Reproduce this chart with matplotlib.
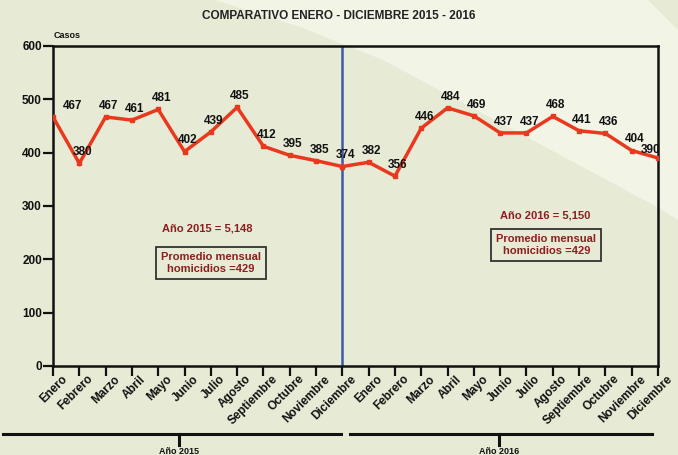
import numpy as np
import matplotlib
matplotlib.use("Agg")
import matplotlib.pyplot as plt
from matplotlib.patches import Polygon
from matplotlib.lines import Line2D
from matplotlib.transforms import ScaledTranslation

plt.rcParams['font.family'] = ['Liberation Sans', 'DejaVu Sans']
plt.rcParams['font.weight'] = 'bold'

meses = ['Enero', 'Febrero', 'Marzo', 'Abril', 'Mayo', 'Junio', 'Julio',
         'Agosto', 'Septiembre', 'Octubre', 'Noviembre', 'Diciembre']
casos_2015 = [467, 380, 467, 461, 481, 402, 439, 485, 412, 395, 385, 374]
casos_2016 = [382, 356, 446, 484, 469, 437, 437, 468, 441, 436, 404, 390]
total_2015 = "Año 2015 = 5,148"
total_2016 = "Año 2016 = 5,150"
promedio_2015 = "Promedio mensual\nhomicidios =429"
promedio_2016 = "Promedio mensual\nhomicidios =429"

valores = casos_2015 + casos_2016
etiquetas = meses + meses
x = np.arange(len(valores))

W, H = 678, 455
fig = plt.figure(figsize=(W / 100, H / 100), dpi=100)
fig.patch.set_facecolor('#E7EAD4')

# lighter diagonal band in the background
def px(pts):
    return [(a / W, 1 - b / H) for a, b in pts]

band = Polygon(px([(215, 0), (300, 27), (383, 60), (657, 207), (678, 220),
                   (678, 30), (648, 0)]),
               closed=True, transform=fig.transFigure, facecolor='#F2F4E6',
               edgecolor='none', zorder=-10)
fig.patches.append(band)

ax = fig.add_axes([53 / W, 1 - 366 / H, (658 - 53) / W, (366 - 46) / H])
ax.set_facecolor('none')

ax.plot(x, valores, color='#E8391F', lw=2.5, marker='s', ms=2.5, zorder=3,
        solid_joinstyle='miter')
ax.axvline(11, color='#3C5AA8', lw=1.8, zorder=2)

for i, v in enumerate(valores):
    dx, dy = 2.2, 8
    if i == 0:
        dx = 14
    elif i == len(valores) - 1:
        dx, dy = -5, 5.5
    ax.annotate(str(v), (i, v), xytext=(dx, dy), textcoords='offset points',
                ha='center', va='center', fontsize=8.5, fontweight='bold',
                color='#111111', zorder=4)

ax.set_xlim(0, 23)
ax.set_ylim(0, 600)
ax.set_yticks(range(0, 601, 100))
ax.set_xticks(x)
ax.tick_params(axis='both', direction='out', length=7, width=1.6,
               colors='#111111', labelsize=8.5, pad=1)
ax.set_xticklabels(etiquetas, rotation=45, ha='right', va='top',
                   rotation_mode='anchor', fontsize=8.5, fontweight='bold')
off = ScaledTranslation(8 / 100, 4 / 100, fig.dpi_scale_trans)
for lbl in ax.get_xticklabels():
    lbl.set_transform(lbl.get_transform() + off)
for lbl in ax.get_yticklabels():
    lbl.set_fontweight('bold')
for s in ax.spines.values():
    s.set_linewidth(1.8)
    s.set_color('#111111')

red = '#8B1F1F'
ax.text(5.85, 257, total_2015, ha='center', va='center', fontsize=8,
        fontweight='bold', color=red)
ax.text(6.0, 193, promedio_2015, ha='center', va='center', fontsize=8,
        fontweight='bold', color=red, linespacing=1.3,
        bbox=dict(boxstyle='square,pad=0.45', fc='none', ec='#333333', lw=1.3))
ax.text(18.7, 283, total_2016, ha='center', va='center', fontsize=8,
        fontweight='bold', color=red)
ax.text(18.75, 227, promedio_2016, ha='center', va='center', fontsize=8,
        fontweight='bold', color=red, linespacing=1.3,
        bbox=dict(boxstyle='square,pad=0.45', fc='none', ec='#333333', lw=1.3))

fig.text(339 / W, 1 - 16 / H, 'COMPARATIVO ENERO - DICIEMBRE 2015 - 2016',
         ha='center', va='center', fontsize=8.5, fontweight='bold',
         color='#222222')
fig.text(54 / W, 1 - 36 / H, 'Casos', ha='left', va='center', fontsize=6.5,
         fontweight='bold', color='#111111')

# year brackets below the month labels
for x0, x1, xc, lab in [(3, 341, 179, 'Año 2015'), (350, 652, 499, 'Año 2016')]:
    fig.lines.append(Line2D([x0 / W, x1 / W], [1 - 434 / H] * 2,
                            transform=fig.transFigure, color='#111111', lw=2.2))
    fig.lines.append(Line2D([xc / W] * 2, [1 - 434 / H, 1 - 445 / H],
                            transform=fig.transFigure, color='#111111', lw=2.2))
    fig.text(xc / W, 1 - 452 / H, lab, ha='center', va='center', fontsize=6.5,
             fontweight='bold', color='#111111')

fig.savefig('out.png', dpi=100, facecolor=fig.get_facecolor())
